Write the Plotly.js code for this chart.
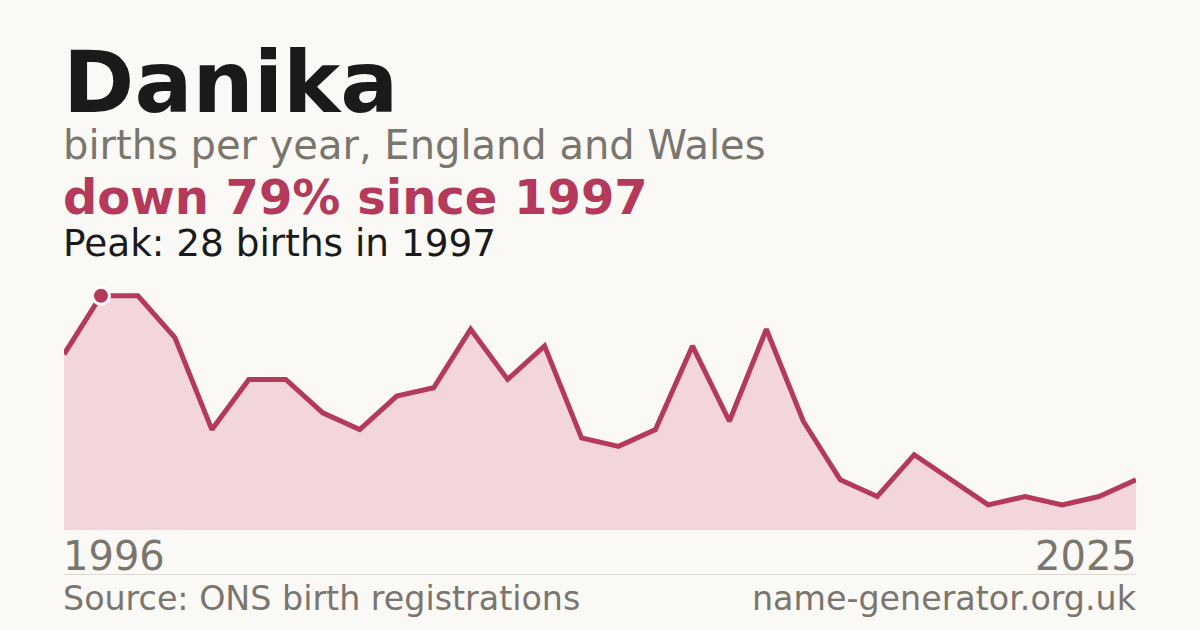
<!DOCTYPE html>
<html>
<head>
<meta charset="utf-8">
<script src="https://cdn.plot.ly/plotly-3.0.1.min.js"></script>
<style>
  html, body { margin: 0; padding: 0; background: #faf9f5; }
  #chart { width: 1200px; height: 630px; }
</style>
</head>
<body>
<div id="chart"></div>
<script>
const years = [1996, 1997, 1998, 1999, 2000, 2001, 2002, 2003, 2004, 2005,
               2006, 2007, 2008, 2009, 2010, 2011, 2012, 2013, 2014, 2015,
               2016, 2017, 2018, 2019, 2020, 2021, 2022, 2023, 2024, 2025];
const births = [21, 28, 28, 23, 12, 18, 18, 14, 12, 16,
                17, 24, 18, 22, 11, 10, 12, 22, 13, 24,
                13, 6, 4, 9, 6, 3, 4, 3, 4, 6];
const peakYear = [1997];
const peakValue = [28];

const nameText = "Danika";
const subText = "births per year, England and Wales";
const changeText = "down 79% since 1997";
const peakText = "Peak: 28 births in 1997";
const sourceText = "Source: ONS birth registrations";
const siteText = "name-generator.org.uk";

const RED = "#b5395a";
const GREY = "#7a756d";
const INK = "#1a1a1a";
const FONT = "DejaVu Sans, sans-serif";

// plot area: bottom at 530px, 251px tall, 1072px wide
const plotBottom = 530, plotH = 251, plotW = 1072;
const py = (pix) => (plotBottom - pix) / plotH;
const nudge = 2 / plotW; // annotation boxes carry a little padding

const traces = [
  {
    x: years, y: births,
    type: "scatter", mode: "lines",
    fill: "tozeroy", fillcolor: "#f2d6dc",
    line: { color: RED, width: 5, shape: "linear" },
    hoverinfo: "skip"
  },
  {
    x: peakYear, y: peakValue,
    type: "scatter", mode: "markers",
    marker: { size: 17, color: RED, line: { color: "#ffffff", width: 3 } },
    cliponaxis: false,
    hoverinfo: "skip"
  }
];

function label(text, x, xanchor, yPix, size, color, bold) {
  return {
    text: bold ? "<b>" + text + "</b>" : text,
    xref: "paper", yref: "paper",
    x: xanchor === "left" ? x - nudge : x + nudge,
    y: py(yPix), xanchor: xanchor, yanchor: "middle",
    showarrow: false, borderpad: 0,
    font: { family: FONT, size: size, color: color }
  };
}

const layout = {
  width: 1200, height: 630,
  paper_bgcolor: "#faf9f5", plot_bgcolor: "#faf9f5",
  margin: { l: 64, r: 64, t: plotBottom - plotH, b: 630 - plotBottom },
  showlegend: false,
  xaxis: { range: [1996, 2025], visible: false, fixedrange: true },
  yaxis: { range: [0, 30], visible: false, fixedrange: true },
  annotations: [
    label(nameText, 0, "left", 112 - 0.346 * 86, 86, INK, true),
    label(subText, 0, "left", 159 - 0.346 * 40, 40, GREY, false),
    label(changeText, 0, "left", 214 - 0.346 * 48, 48, RED, true),
    label(peakText, 0, "left", 256 - 0.346 * 37.4, 37.4, INK, false),
    label(String(years[0]), 0, "left", 570 - 0.346 * 40, 40, GREY, false),
    label(String(years[years.length - 1]), 1, "right", 570 - 0.346 * 40, 40, GREY, false),
    label(sourceText, 0, "left", 610 - 0.346 * 33.3, 33.3, GREY, false),
    label(siteText, 1, "right", 610 - 0.346 * 33.3, 33.3, GREY, false)
  ],
  shapes: [
    { type: "line", xref: "paper", yref: "paper", x0: 0, x1: 1, y0: py(574.5), y1: py(574.5),
      line: { color: "#dedad2", width: 1 } }
  ]
};

Plotly.newPlot("chart", traces, layout, { staticPlot: true, displayModeBar: false });
</script>
</body>
</html>
